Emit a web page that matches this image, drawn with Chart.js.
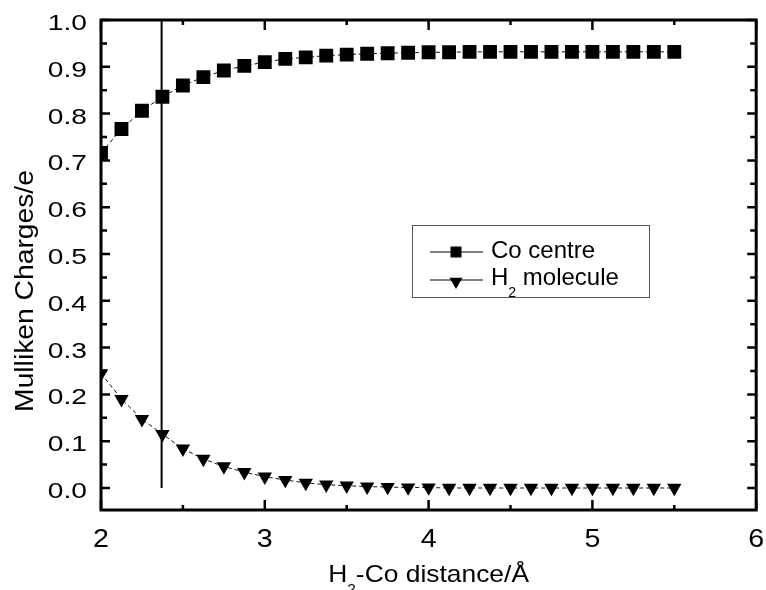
<!DOCTYPE html>
<html>
<head>
<meta charset="utf-8">
<script src="https://cdn.jsdelivr.net/npm/chart.js@4.4.1/dist/chart.umd.min.js"></script>
<style>
  html, body { margin: 0; padding: 0; background: #fff; }
  #wrap { width: 766px; height: 590px; }
</style>
</head>
<body>
<div id="wrap"><canvas id="chart" width="766" height="590"></canvas></div>
<script>
// H2-Co distance in Angstrom
const distances = [2.000, 2.125, 2.250, 2.375, 2.500, 2.625, 2.750, 2.875, 3.000, 3.125,
  3.250, 3.375, 3.500, 3.625, 3.750, 3.875, 4.000, 4.125, 4.250, 4.375,
  4.500, 4.625, 4.750, 4.875, 5.000, 5.125, 5.250, 5.375, 5.500];

const coCentre = [0.716, 0.767, 0.806, 0.836, 0.860, 0.878, 0.892, 0.902, 0.910, 0.917,
  0.920, 0.924, 0.926, 0.928, 0.929, 0.930, 0.931, 0.931, 0.932, 0.932,
  0.932, 0.932, 0.932, 0.932, 0.932, 0.932, 0.932, 0.932, 0.932];

const h2Molecule = [0.245, 0.190, 0.147, 0.115, 0.084, 0.062, 0.046, 0.034, 0.024, 0.017,
  0.011, 0.007, 0.005, 0.003, 0.002, 0.001, 0.001, 0.000, 0.000, 0.000,
  0.000, 0.000, 0.000, 0.000, 0.000, 0.000, 0.000, 0.000, 0.000];

// vertical marker line
const eqDistance = [2.37, 2.37];
const eqRange = [0.0, 1.0];

const xTicks = [2, 3, 4, 5, 6];
const xMinor = [2.5, 3.5, 4.5, 5.5];
const yTicks = [0.0, 0.1, 0.2, 0.3, 0.4, 0.5, 0.6, 0.7, 0.8, 0.9, 1.0];
const yMinor = [0.05, 0.15, 0.25, 0.35, 0.45, 0.55, 0.65, 0.75, 0.85, 0.95];

const FONT = '"Liberation Sans", Arial, sans-serif';

function toPoints(xs, ys) {
  return xs.map((x, i) => ({ x: x, y: ys[i] }));
}

// text with a lowered subscript part
function drawSubText(ctx, parts, size, subSize, subDrop) {
  let x = 0;
  parts.forEach(p => {
    ctx.font = (p.sub ? subSize : size) + "px " + FONT;
    ctx.fillText(p.t, x, p.sub ? subDrop : 0);
    x += ctx.measureText(p.t).width;
  });
}

function partsWidth(ctx, parts, size, subSize) {
  let w = 0;
  parts.forEach(p => {
    ctx.font = (p.sub ? subSize : size) + "px " + FONT;
    w += ctx.measureText(p.t).width;
  });
  return w;
}

// the scanned figure has wide lettering, so labels are stretched a bit
function stretchedText(ctx, text, x, y, sx, align) {
  ctx.save();
  ctx.translate(x, y);
  ctx.scale(sx, 1);
  ctx.textAlign = align;
  ctx.fillText(text, 0, 0);
  ctx.restore();
}

const framePlugin = {
  id: "frame",
  afterDraw(chart) {
    const ctx = chart.ctx;
    const { left, right, top, bottom } = chart.chartArea;
    const xs = chart.scales.x;
    const ys = chart.scales.y;

    ctx.save();
    ctx.strokeStyle = "#000";
    ctx.fillStyle = "#000";

    // inward ticks on all four sides
    ctx.lineWidth = 2.5;
    ctx.beginPath();
    xTicks.forEach(v => {
      const px = xs.getPixelForValue(v);
      ctx.moveTo(px, bottom); ctx.lineTo(px, bottom - 10);
      ctx.moveTo(px, top); ctx.lineTo(px, top + 10);
    });
    xMinor.forEach(v => {
      const px = xs.getPixelForValue(v);
      ctx.moveTo(px, bottom); ctx.lineTo(px, bottom - 5);
      ctx.moveTo(px, top); ctx.lineTo(px, top + 5);
    });
    yTicks.forEach(v => {
      const py = ys.getPixelForValue(v);
      ctx.moveTo(left, py); ctx.lineTo(left + 9, py);
      ctx.moveTo(right, py); ctx.lineTo(right - 9, py);
    });
    yMinor.forEach(v => {
      const py = ys.getPixelForValue(v);
      ctx.moveTo(left, py); ctx.lineTo(left + 6, py);
      ctx.moveTo(right, py); ctx.lineTo(right - 6, py);
    });
    ctx.stroke();

    ctx.lineWidth = 3;
    ctx.strokeRect(left, top, right - left, bottom - top);

    // tick labels
    ctx.textBaseline = "alphabetic";
    ctx.font = "22px " + FONT;
    yTicks.forEach(v => {
      stretchedText(ctx, v.toFixed(1), 87, ys.getPixelForValue(v) + 10, 1.28, "right");
    });
    ctx.font = "26px " + FONT;
    xTicks.forEach(v => {
      stretchedText(ctx, String(v), xs.getPixelForValue(v), bottom + 37, 1.1, "center");
    });

    // axis titles
    ctx.textAlign = "left";
    const xParts = [{ t: "H" }, { t: "2", sub: true }, { t: "-Co distance/\u00C5" }];
    const sx = 1.1;
    const w = partsWidth(ctx, xParts, 24, 14) * sx;
    ctx.save();
    ctx.translate((left + right) / 2 - w / 2, 582);
    ctx.scale(sx, 1);
    drawSubText(ctx, xParts, 24, 14, 12);
    ctx.restore();

    ctx.save();
    ctx.translate(33, 291);
    ctx.rotate(-Math.PI / 2);
    ctx.scale(1.13, 1);
    ctx.font = "25px " + FONT;
    ctx.textAlign = "center";
    ctx.fillText("Mulliken Charges/e", 0, 0);
    ctx.restore();

    // legend box
    ctx.textAlign = "left";
    ctx.lineWidth = 1;
    ctx.strokeStyle = "#555";
    ctx.strokeRect(412.5, 225.5, 237, 72);

    const rows = [
      { y: 252, style: "rect", r: 7.8, rot: 0, parts: [{ t: "Co centre" }], base: 258 },
      { y: 280, style: "triangle", r: 7.5, rot: 180, parts: [{ t: "H" }, { t: "2", sub: true }, { t: " molecule" }], base: 285 }
    ];
    rows.forEach(row => {
      ctx.strokeStyle = "#000";
      ctx.lineWidth = 1;
      ctx.beginPath();
      ctx.moveTo(430, row.y);
      ctx.lineTo(483, row.y);
      ctx.stroke();
      Chart.helpers.drawPoint(ctx, { pointStyle: row.style, radius: row.r, rotation: row.rot, borderWidth: 0 }, 456, row.y + (row.rot ? 1.5 : 0));
      ctx.save();
      ctx.translate(491, row.base);
      drawSubText(ctx, row.parts, 24, 14, 12);
      ctx.restore();
    });

    ctx.restore();
  }
};

new Chart(document.getElementById("chart"), {
  type: "line",
  data: {
    datasets: [
      {
        label: "Co centre",
        data: toPoints(distances, coCentre),
        borderColor: "#111",
        borderWidth: 1,
        borderDash: [4, 3],
        pointStyle: "rect",
        pointRadius: 9.8,
        pointBackgroundColor: "#000",
        pointBorderWidth: 0
      },
      {
        label: "H2 molecule",
        data: toPoints(distances, h2Molecule),
        borderColor: "#111",
        borderWidth: 1,
        borderDash: [4, 3],
        pointStyle: "triangle",
        pointRotation: 180,
        pointRadius: 8.3,
        pointBackgroundColor: "#000",
        pointBorderWidth: 0
      },
      {
        label: "marker",
        data: toPoints(eqDistance, eqRange),
        borderColor: "#000",
        borderWidth: 2,
        pointRadius: 0
      }
    ]
  },
  options: {
    responsive: false,
    animation: false,
    devicePixelRatio: 1,
    layout: { padding: { top: 20, right: 8, left: 0, bottom: 0 } },
    plugins: { legend: { display: false }, tooltip: { enabled: false } },
    scales: {
      x: {
        type: "linear",
        min: 2,
        max: 6,
        grid: { display: false, drawTicks: false },
        border: { display: false },
        afterBuildTicks: s => { s.ticks = xTicks.map(v => ({ value: v })); },
        afterFit: s => { s.height = 80; },
        ticks: { display: false }
      },
      y: {
        type: "linear",
        min: -0.047,
        max: 1.0,
        grid: { display: false, drawTicks: false },
        border: { display: false },
        afterBuildTicks: s => { s.ticks = yTicks.map(v => ({ value: v })); },
        afterFit: s => { s.width = 101; },
        ticks: { display: false }
      }
    }
  },
  plugins: [framePlugin]
});
</script>
</body>
</html>
